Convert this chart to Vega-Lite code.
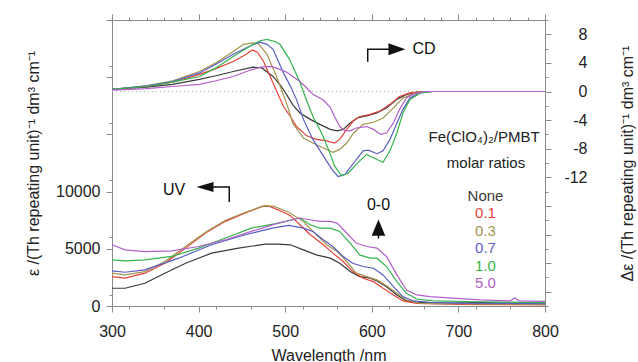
{
  "$schema": "https://vega.github.io/schema/vega-lite/v6.json",
  "autosize": "none",
  "width": 433,
  "height": 286,
  "padding": {"left": 112, "top": 20, "right": 93, "bottom": 56},
  "background": "white",
  "config": {
    "font": "Liberation Sans",
    "view": {"stroke": "#8a8a8a"},
    "axis": {"domainColor": "#8a8a8a", "tickColor": "#8a8a8a", "grid": false, "labelOverlap": false, "labelFont": "Liberation Sans", "labelFontSize": 16, "labelColor": "#222", "titleFont": "Liberation Sans", "titleFontSize": 16, "titleFontWeight": "normal", "titleColor": "#222"}
  },
  "datasets": {
    "uv": [
      {"wl":300,"eps":1550,"r":"None"},{"wl":315,"eps":1550,"r":"None"},{"wl":338,"eps":1990,"r":"None"},{"wl":361,"eps":2870,"r":"None"},{"wl":385,"eps":3740,"r":"None"},{"wl":415,"eps":4620,"r":"None"},{"wl":446,"eps":5060,"r":"None"},{"wl":477,"eps":5410,"r":"None"},{"wl":492,"eps":5410,"r":"None"},{"wl":506,"eps":5350,"r":"None"},{"wl":521,"eps":4910,"r":"None"},{"wl":536,"eps":4470,"r":"None"},{"wl":552,"eps":4180,"r":"None"},{"wl":563,"eps":3740,"r":"None"},{"wl":575,"eps":3010,"r":"None"},{"wl":586,"eps":2570,"r":"None"},{"wl":598,"eps":2430,"r":"None"},{"wl":606,"eps":2190,"r":"None"},{"wl":617,"eps":1690,"r":"None"},{"wl":629,"eps":965,"r":"None"},{"wl":640,"eps":440,"r":"None"},{"wl":652,"eps":320,"r":"None"},{"wl":680,"eps":230,"r":"None"},{"wl":725,"eps":300,"r":"None"},{"wl":760,"eps":250,"r":"None"},{"wl":800,"eps":250,"r":"None"},
      {"wl":300,"eps":2570,"r":"0.1"},{"wl":315,"eps":2430,"r":"0.1"},{"wl":338,"eps":2870,"r":"0.1"},{"wl":361,"eps":3740,"r":"0.1"},{"wl":385,"eps":5060,"r":"0.1"},{"wl":408,"eps":6380,"r":"0.1"},{"wl":431,"eps":7400,"r":"0.1"},{"wl":454,"eps":8130,"r":"0.1"},{"wl":474,"eps":8710,"r":"0.1"},{"wl":482,"eps":8710,"r":"0.1"},{"wl":500,"eps":8130,"r":"0.1"},{"wl":506,"eps":7900,"r":"0.1"},{"wl":517,"eps":7100,"r":"0.1"},{"wl":529,"eps":6230,"r":"0.1"},{"wl":544,"eps":5350,"r":"0.1"},{"wl":555,"eps":4620,"r":"0.1"},{"wl":567,"eps":3890,"r":"0.1"},{"wl":578,"eps":3010,"r":"0.1"},{"wl":590,"eps":2430,"r":"0.1"},{"wl":602,"eps":2130,"r":"0.1"},{"wl":613,"eps":1550,"r":"0.1"},{"wl":625,"eps":965,"r":"0.1"},{"wl":636,"eps":440,"r":"0.1"},{"wl":652,"eps":230,"r":"0.1"},{"wl":700,"eps":150,"r":"0.1"},{"wl":800,"eps":100,"r":"0.1"},
      {"wl":300,"eps":2870,"r":"0.3"},{"wl":315,"eps":2720,"r":"0.3"},{"wl":338,"eps":3010,"r":"0.3"},{"wl":361,"eps":3890,"r":"0.3"},{"wl":385,"eps":5200,"r":"0.3"},{"wl":408,"eps":6450,"r":"0.3"},{"wl":431,"eps":7500,"r":"0.3"},{"wl":454,"eps":8200,"r":"0.3"},{"wl":476,"eps":8770,"r":"0.3"},{"wl":487,"eps":8710,"r":"0.3"},{"wl":504,"eps":8200,"r":"0.3"},{"wl":521,"eps":7400,"r":"0.3"},{"wl":532,"eps":6520,"r":"0.3"},{"wl":548,"eps":5350,"r":"0.3"},{"wl":560,"eps":4760,"r":"0.3"},{"wl":571,"eps":3890,"r":"0.3"},{"wl":582,"eps":2870,"r":"0.3"},{"wl":594,"eps":2570,"r":"0.3"},{"wl":606,"eps":2280,"r":"0.3"},{"wl":617,"eps":1780,"r":"0.3"},{"wl":629,"eps":1110,"r":"0.3"},{"wl":640,"eps":530,"r":"0.3"},{"wl":656,"eps":230,"r":"0.3"},{"wl":700,"eps":200,"r":"0.3"},{"wl":800,"eps":150,"r":"0.3"},
      {"wl":300,"eps":3070,"r":"0.7"},{"wl":315,"eps":2950,"r":"0.7"},{"wl":338,"eps":3160,"r":"0.7"},{"wl":377,"eps":4180,"r":"0.7"},{"wl":415,"eps":5350,"r":"0.7"},{"wl":454,"eps":6230,"r":"0.7"},{"wl":485,"eps":6810,"r":"0.7"},{"wl":504,"eps":7040,"r":"0.7"},{"wl":521,"eps":6810,"r":"0.7"},{"wl":532,"eps":6520,"r":"0.7"},{"wl":544,"eps":5790,"r":"0.7"},{"wl":555,"eps":5200,"r":"0.7"},{"wl":567,"eps":4330,"r":"0.7"},{"wl":578,"eps":3740,"r":"0.7"},{"wl":590,"eps":3450,"r":"0.7"},{"wl":602,"eps":3300,"r":"0.7"},{"wl":613,"eps":2720,"r":"0.7"},{"wl":625,"eps":1690,"r":"0.7"},{"wl":636,"eps":820,"r":"0.7"},{"wl":648,"eps":440,"r":"0.7"},{"wl":667,"eps":320,"r":"0.7"},{"wl":700,"eps":250,"r":"0.7"},{"wl":800,"eps":200,"r":"0.7"},
      {"wl":300,"eps":4040,"r":"1.0"},{"wl":315,"eps":3950,"r":"1.0"},{"wl":338,"eps":4040,"r":"1.0"},{"wl":369,"eps":4330,"r":"1.0"},{"wl":400,"eps":5060,"r":"1.0"},{"wl":431,"eps":5940,"r":"1.0"},{"wl":461,"eps":6810,"r":"1.0"},{"wl":492,"eps":7250,"r":"1.0"},{"wl":517,"eps":7690,"r":"1.0"},{"wl":529,"eps":7100,"r":"1.0"},{"wl":540,"eps":6810,"r":"1.0"},{"wl":552,"eps":6810,"r":"1.0"},{"wl":563,"eps":6520,"r":"1.0"},{"wl":575,"eps":5500,"r":"1.0"},{"wl":586,"eps":4470,"r":"1.0"},{"wl":598,"eps":4180,"r":"1.0"},{"wl":606,"eps":4180,"r":"1.0"},{"wl":617,"eps":3450,"r":"1.0"},{"wl":629,"eps":2130,"r":"1.0"},{"wl":640,"eps":1110,"r":"1.0"},{"wl":652,"eps":610,"r":"1.0"},{"wl":671,"eps":440,"r":"1.0"},{"wl":725,"eps":370,"r":"1.0"},{"wl":800,"eps":300,"r":"1.0"},
      {"wl":300,"eps":5350,"r":"5.0"},{"wl":315,"eps":4910,"r":"5.0"},{"wl":338,"eps":4760,"r":"5.0"},{"wl":369,"eps":4820,"r":"5.0"},{"wl":400,"eps":5200,"r":"5.0"},{"wl":431,"eps":5790,"r":"5.0"},{"wl":461,"eps":6520,"r":"5.0"},{"wl":492,"eps":7250,"r":"5.0"},{"wl":517,"eps":7690,"r":"5.0"},{"wl":529,"eps":7540,"r":"5.0"},{"wl":540,"eps":7400,"r":"5.0"},{"wl":552,"eps":7400,"r":"5.0"},{"wl":560,"eps":7250,"r":"5.0"},{"wl":571,"eps":6380,"r":"5.0"},{"wl":582,"eps":5500,"r":"5.0"},{"wl":594,"eps":5200,"r":"5.0"},{"wl":606,"eps":5060,"r":"5.0"},{"wl":617,"eps":4330,"r":"5.0"},{"wl":629,"eps":2720,"r":"5.0"},{"wl":640,"eps":1400,"r":"5.0"},{"wl":652,"eps":965,"r":"5.0"},{"wl":667,"eps":820,"r":"5.0"},{"wl":698,"eps":670,"r":"5.0"},{"wl":725,"eps":530,"r":"5.0"},{"wl":760,"eps":450,"r":"5.0"},{"wl":765,"eps":700,"r":"5.0"},{"wl":770,"eps":450,"r":"5.0"},{"wl":800,"eps":400,"r":"5.0"}
    ],
    "cd": [
      {"wl":300,"de":0.3,"r":"None"},{"wl":340,"de":0.6,"r":"None"},{"wl":370,"de":1.0,"r":"None"},{"wl":401,"de":1.7,"r":"None"},{"wl":420,"de":2.2,"r":"None"},{"wl":440,"de":2.8,"r":"None"},{"wl":463,"de":3.4,"r":"None"},{"wl":473,"de":3.3,"r":"None"},{"wl":486,"de":2.1,"r":"None"},{"wl":495,"de":0.8,"r":"None"},{"wl":502,"de":-0.5,"r":"None"},{"wl":509,"de":-1.9,"r":"None"},{"wl":517,"de":-3.0,"r":"None"},{"wl":529,"de":-3.9,"r":"None"},{"wl":540,"de":-4.6,"r":"None"},{"wl":552,"de":-5.3,"r":"None"},{"wl":560,"de":-5.5,"r":"None"},{"wl":567,"de":-5.3,"r":"None"},{"wl":575,"de":-4.4,"r":"None"},{"wl":583,"de":-3.7,"r":"None"},{"wl":594,"de":-3.4,"r":"None"},{"wl":606,"de":-3.0,"r":"None"},{"wl":617,"de":-2.3,"r":"None"},{"wl":629,"de":-1.1,"r":"None"},{"wl":640,"de":-0.4,"r":"None"},{"wl":652,"de":-0.1,"r":"None"},{"wl":670,"de":0,"r":"None"},{"wl":800,"de":0,"r":"None"},
      {"wl":300,"de":0.3,"r":"0.1"},{"wl":340,"de":0.7,"r":"0.1"},{"wl":370,"de":1.3,"r":"0.1"},{"wl":401,"de":2.4,"r":"0.1"},{"wl":420,"de":3.2,"r":"0.1"},{"wl":440,"de":4.2,"r":"0.1"},{"wl":455,"de":5.2,"r":"0.1"},{"wl":462,"de":5.8,"r":"0.1"},{"wl":468,"de":5.5,"r":"0.1"},{"wl":475,"de":4.2,"r":"0.1"},{"wl":486,"de":1.2,"r":"0.1"},{"wl":498,"de":-2.1,"r":"0.1"},{"wl":506,"de":-3.5,"r":"0.1"},{"wl":513,"de":-4.9,"r":"0.1"},{"wl":525,"de":-6.2,"r":"0.1"},{"wl":536,"de":-6.7,"r":"0.1"},{"wl":548,"de":-6.9,"r":"0.1"},{"wl":557,"de":-7.2,"r":"0.1"},{"wl":563,"de":-6.7,"r":"0.1"},{"wl":571,"de":-5.3,"r":"0.1"},{"wl":579,"de":-4.1,"r":"0.1"},{"wl":586,"de":-3.5,"r":"0.1"},{"wl":598,"de":-3.2,"r":"0.1"},{"wl":610,"de":-2.7,"r":"0.1"},{"wl":621,"de":-1.8,"r":"0.1"},{"wl":632,"de":-0.7,"r":"0.1"},{"wl":644,"de":-0.2,"r":"0.1"},{"wl":660,"de":0,"r":"0.1"},{"wl":800,"de":0,"r":"0.1"},
      {"wl":300,"de":0.3,"r":"0.3"},{"wl":340,"de":0.8,"r":"0.3"},{"wl":370,"de":1.5,"r":"0.3"},{"wl":401,"de":2.8,"r":"0.3"},{"wl":420,"de":4.0,"r":"0.3"},{"wl":440,"de":5.6,"r":"0.3"},{"wl":452,"de":6.6,"r":"0.3"},{"wl":462,"de":6.8,"r":"0.3"},{"wl":469,"de":6.7,"r":"0.3"},{"wl":479,"de":5.2,"r":"0.3"},{"wl":490,"de":2.1,"r":"0.3"},{"wl":502,"de":-1.8,"r":"0.3"},{"wl":509,"de":-4.5,"r":"0.3"},{"wl":521,"de":-6.5,"r":"0.3"},{"wl":532,"de":-7.2,"r":"0.3"},{"wl":544,"de":-7.9,"r":"0.3"},{"wl":555,"de":-8.5,"r":"0.3"},{"wl":563,"de":-8.1,"r":"0.3"},{"wl":571,"de":-7.2,"r":"0.3"},{"wl":579,"de":-5.8,"r":"0.3"},{"wl":590,"de":-4.6,"r":"0.3"},{"wl":602,"de":-4.3,"r":"0.3"},{"wl":613,"de":-3.7,"r":"0.3"},{"wl":625,"de":-2.3,"r":"0.3"},{"wl":636,"de":-0.9,"r":"0.3"},{"wl":648,"de":-0.3,"r":"0.3"},{"wl":660,"de":0,"r":"0.3"},{"wl":800,"de":0,"r":"0.3"},
      {"wl":300,"de":0.3,"r":"0.7"},{"wl":340,"de":0.8,"r":"0.7"},{"wl":370,"de":1.4,"r":"0.7"},{"wl":401,"de":2.6,"r":"0.7"},{"wl":420,"de":3.8,"r":"0.7"},{"wl":440,"de":5.2,"r":"0.7"},{"wl":460,"de":6.4,"r":"0.7"},{"wl":471,"de":6.9,"r":"0.7"},{"wl":479,"de":6.6,"r":"0.7"},{"wl":486,"de":5.9,"r":"0.7"},{"wl":498,"de":2.6,"r":"0.7"},{"wl":505,"de":1.0,"r":"0.7"},{"wl":513,"de":-1.1,"r":"0.7"},{"wl":521,"de":-3.9,"r":"0.7"},{"wl":532,"de":-6.7,"r":"0.7"},{"wl":544,"de":-9.0,"r":"0.7"},{"wl":554,"de":-10.9,"r":"0.7"},{"wl":561,"de":-11.9,"r":"0.7"},{"wl":569,"de":-11.6,"r":"0.7"},{"wl":579,"de":-10.0,"r":"0.7"},{"wl":590,"de":-8.3,"r":"0.7"},{"wl":596,"de":-8.2,"r":"0.7"},{"wl":606,"de":-8.7,"r":"0.7"},{"wl":613,"de":-8.3,"r":"0.7"},{"wl":621,"de":-6.7,"r":"0.7"},{"wl":629,"de":-4.4,"r":"0.7"},{"wl":636,"de":-2.5,"r":"0.7"},{"wl":644,"de":-0.9,"r":"0.7"},{"wl":656,"de":-0.2,"r":"0.7"},{"wl":670,"de":0,"r":"0.7"},{"wl":800,"de":0,"r":"0.7"},
      {"wl":300,"de":0.3,"r":"1.0"},{"wl":340,"de":0.7,"r":"1.0"},{"wl":370,"de":1.3,"r":"1.0"},{"wl":401,"de":2.1,"r":"1.0"},{"wl":420,"de":3.3,"r":"1.0"},{"wl":440,"de":4.9,"r":"1.0"},{"wl":460,"de":6.4,"r":"1.0"},{"wl":471,"de":7.1,"r":"1.0"},{"wl":479,"de":7.3,"r":"1.0"},{"wl":488,"de":7.0,"r":"1.0"},{"wl":494,"de":6.6,"r":"1.0"},{"wl":505,"de":4.5,"r":"1.0"},{"wl":517,"de":1.3,"r":"1.0"},{"wl":523,"de":-0.7,"r":"1.0"},{"wl":532,"de":-3.5,"r":"1.0"},{"wl":542,"de":-5.8,"r":"1.0"},{"wl":550,"de":-8.1,"r":"1.0"},{"wl":557,"de":-10.4,"r":"1.0"},{"wl":565,"de":-11.8,"r":"1.0"},{"wl":573,"de":-11.4,"r":"1.0"},{"wl":582,"de":-10.2,"r":"1.0"},{"wl":594,"de":-8.8,"r":"1.0"},{"wl":606,"de":-9.5,"r":"1.0"},{"wl":613,"de":-9.9,"r":"1.0"},{"wl":621,"de":-8.3,"r":"1.0"},{"wl":629,"de":-5.8,"r":"1.0"},{"wl":636,"de":-3.0,"r":"1.0"},{"wl":644,"de":-1.1,"r":"1.0"},{"wl":656,"de":-0.2,"r":"1.0"},{"wl":670,"de":0,"r":"1.0"},{"wl":800,"de":0,"r":"1.0"},
      {"wl":300,"de":0.2,"r":"5.0"},{"wl":340,"de":0.4,"r":"5.0"},{"wl":370,"de":0.7,"r":"5.0"},{"wl":401,"de":1.0,"r":"5.0"},{"wl":420,"de":1.5,"r":"5.0"},{"wl":440,"de":2.1,"r":"5.0"},{"wl":460,"de":3.0,"r":"5.0"},{"wl":472,"de":3.4,"r":"5.0"},{"wl":484,"de":3.5,"r":"5.0"},{"wl":494,"de":3.1,"r":"5.0"},{"wl":502,"de":2.7,"r":"5.0"},{"wl":510,"de":2.0,"r":"5.0"},{"wl":517,"de":1.4,"r":"5.0"},{"wl":524,"de":0.6,"r":"5.0"},{"wl":532,"de":-0.4,"r":"5.0"},{"wl":544,"de":-1.2,"r":"5.0"},{"wl":552,"de":-2.2,"r":"5.0"},{"wl":557,"de":-3.5,"r":"5.0"},{"wl":563,"de":-4.9,"r":"5.0"},{"wl":569,"de":-5.5,"r":"5.0"},{"wl":575,"de":-5.5,"r":"5.0"},{"wl":582,"de":-5.1,"r":"5.0"},{"wl":594,"de":-4.9,"r":"5.0"},{"wl":602,"de":-5.3,"r":"5.0"},{"wl":610,"de":-6.0,"r":"5.0"},{"wl":617,"de":-5.8,"r":"5.0"},{"wl":625,"de":-4.4,"r":"5.0"},{"wl":632,"de":-2.5,"r":"5.0"},{"wl":640,"de":-0.9,"r":"5.0"},{"wl":648,"de":-0.4,"r":"5.0"},{"wl":660,"de":0,"r":"5.0"},{"wl":800,"de":0,"r":"5.0"}
    ],
    "arrows": [
      {"g":"cd","o":0,"wl":595.3,"eps":21350},{"g":"cd","o":1,"wl":595.3,"eps":22440},{"g":"cd","o":2,"wl":622,"eps":22440},
      {"g":"uv","o":0,"wl":435.4,"eps":9090},{"g":"uv","o":1,"wl":435.4,"eps":10400},{"g":"uv","o":2,"wl":414,"eps":10400},
      {"g":"00","o":0,"wl":607.7,"eps":6500},{"g":"00","o":1,"wl":607.7,"eps":5900}
    ],
    "heads": [
      {"dir":"right","wl":629,"eps":22440},
      {"dir":"left","wl":407.4,"eps":10400},
      {"dir":"up","wl":607.7,"eps":6820}
    ],
    "notes16": [
      {"t":"CD","wl":660.3,"eps":22440},
      {"t":"UV","wl":371.6,"eps":10140},
      {"t":"0-0","wl":607.7,"eps":8800}
    ],
    "notes15": [
      {"t":"Fe(ClO₄)₂/PMBT","wl":729.6,"eps":14770},
      {"t":"molar ratios","wl":731.9,"eps":12500}
    ],
    "legend": [
      {"r":"None","wl":731.3,"eps":9615},
      {"r":"0.1","wl":731.3,"eps":8130},
      {"r":"0.3","wl":731.3,"eps":6556},
      {"r":"0.7","wl":731.3,"eps":5070},
      {"r":"1.0","wl":731.3,"eps":3497},
      {"r":"5.0","wl":731.3,"eps":2010}
    ],
    "zero": [{"wl":300,"de":0},{"wl":800,"de":0}]
  },
  "resolve": {"scale": {"y": "independent"}, "axis": {"x": "independent", "y": "independent"}},
  "layer": [
    {
      "data": {"name": "zero"},
      "mark": {"type": "line", "color": "#aaaaaa", "strokeDash": [1, 3], "strokeWidth": 1},
      "encoding": {
        "x": {"field": "wl", "type": "quantitative", "scale": {"domain": [300, 800], "nice": false},
          "axis": {"orient": "top", "title": null, "labels": false, "domain": false, "tickSize": 3,
            "values": [320,340,360,380,420,440,460,480,520,540,560,580,620,640,660,680,720,740,760,780]}},
        "y": {"field": "de", "type": "quantitative", "scale": {"domain": [-30, 10], "nice": false},
          "axis": {"orient": "right", "title": null, "labels": false, "domain": false, "tickSize": 3,
            "values": [-30,-26,-22,-18,-14,-10,-6,-2,2,6,10]}}
      }
    },
    {
      "data": {"name": "uv"},
      "mark": {"type": "line", "strokeWidth": 1.2},
      "encoding": {
        "x": {"field": "wl", "type": "quantitative", "scale": {"domain": [300, 800], "nice": false},
          "axis": {"orient": "bottom", "title": "Wavelength /nm", "values": [300,400,500,600,700,800], "format": "d",
            "tickSize": 6, "labelPadding": 11, "titlePadding": 8, "labelFlush": false}},
        "y": {"field": "eps", "type": "quantitative", "scale": {"domain": [0, 25000], "nice": false},
          "axis": {"orient": "left", "title": "ε /(Th repeating unit)⁻¹ dm³ cm⁻¹", "values": [0,5000,10000,15000,20000,25000],
            "labelExpr": "datum.value <= 10000 ? ('' + datum.value) : ''", "tickSize": 6, "labelPadding": 6, "titlePadding": 14, "labelFlush": false}},
        "color": {"field": "r", "type": "nominal", "scale": {"domain": ["None","0.1","0.3","0.7","1.0","5.0"], "range": ["#3a3a3a","#e5443a","#a39450","#5a5ec4","#34b34c","#b25fca"]}, "legend": null}
      }
    },
    {
      "layer": [
        {
          "data": {"name": "arrows"},
          "mark": {"type": "line", "color": "#111", "strokeWidth": 1.5},
          "encoding": {
            "x": {"field": "wl", "type": "quantitative", "scale": {"domain": [300, 800], "nice": false},
              "axis": {"orient": "bottom", "title": null, "labels": false, "domain": false, "tickSize": 3,
                "values": [320,340,360,380,420,440,460,480,520,540,560,580,620,640,660,680,720,740,760,780]}},
            "y": {"field": "eps", "type": "quantitative", "scale": {"domain": [0, 25000], "nice": false},
              "axis": {"orient": "left", "title": null, "labels": false, "domain": false, "tickSize": 3,
                "values": [1000,2000,3000,4000,6000,7000,8000,9000,11000,12000,13000,14000,16000,17000,18000,19000,21000,22000,23000,24000]}},
            "detail": {"field": "g"},
            "order": {"field": "o"}
          }
        },
        {
          "data": {"name": "heads"},
          "mark": {"type": "point", "filled": true, "color": "#111", "opacity": 1, "size": 289},
          "encoding": {
            "x": {"field": "wl", "type": "quantitative"},
            "y": {"field": "eps", "type": "quantitative"},
            "shape": {"field": "dir", "type": "nominal", "scale": {"domain": ["right","left","up"], "range": ["M-1,-0.7L1,0L-1,0.7Z","M1,-0.6L-1,0L1,0.6Z","M0,-1L0.8,0.9L-0.8,0.9Z"]}, "legend": null}
          }
        },
        {
          "data": {"name": "notes16"},
          "mark": {"type": "text", "fontSize": 16, "color": "#111", "align": "center", "baseline": "middle"},
          "encoding": {
            "x": {"field": "wl", "type": "quantitative"},
            "y": {"field": "eps", "type": "quantitative"},
            "text": {"field": "t"}
          }
        },
        {
          "data": {"name": "notes15"},
          "mark": {"type": "text", "fontSize": 15, "color": "#222", "align": "center", "baseline": "middle"},
          "encoding": {
            "x": {"field": "wl", "type": "quantitative"},
            "y": {"field": "eps", "type": "quantitative"},
            "text": {"field": "t"}
          }
        },
        {
          "data": {"name": "legend"},
          "mark": {"type": "text", "fontSize": 15, "align": "center", "baseline": "middle"},
          "encoding": {
            "x": {"field": "wl", "type": "quantitative"},
            "y": {"field": "eps", "type": "quantitative"},
            "text": {"field": "r"},
            "color": {"field": "r", "type": "nominal", "legend": null}
          }
        }
      ]
    },
    {
      "data": {"name": "cd"},
      "mark": {"type": "line", "strokeWidth": 1.2},
      "encoding": {
        "x": {"field": "wl", "type": "quantitative", "scale": {"domain": [300, 800], "nice": false},
          "axis": {"orient": "top", "title": null, "labels": false, "tickSize": 6, "values": [300,400,500,600,700,800]}},
        "y": {"field": "de", "type": "quantitative", "scale": {"domain": [-30, 10], "nice": false},
          "axis": {"orient": "right", "title": "Δε /(Th repeating unit)⁻¹ dm³ cm⁻¹", "titleAngle": 270, "values": [-28,-24,-20,-16,-12,-8,-4,0,4,8],
            "labelExpr": "datum.value >= -12 ? ('' + datum.value) : ''", "labelAlign": "right", "labelPadding": 36,
            "tickSize": 6, "titlePadding": 48, "labelFlush": false}},
        "color": {"field": "r", "type": "nominal", "legend": null}
      }
    }
  ]
}
